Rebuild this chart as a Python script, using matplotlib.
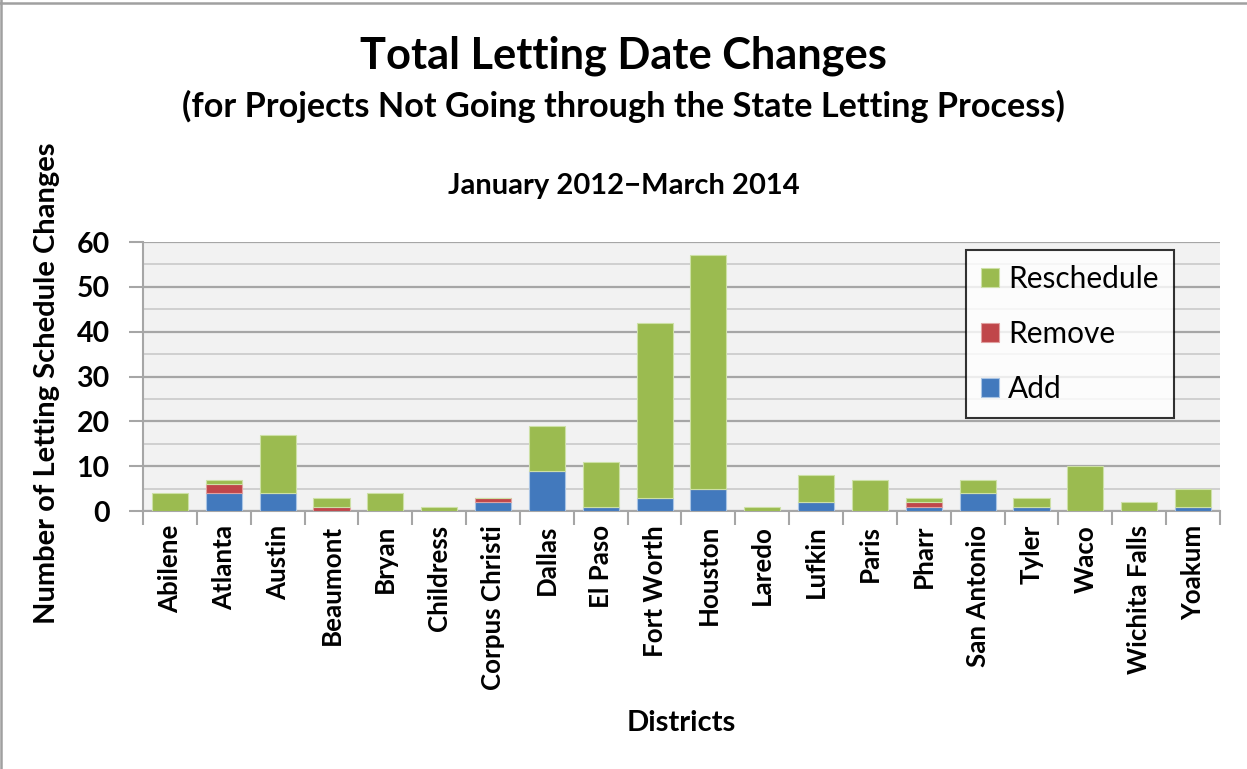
import matplotlib
matplotlib.use("Agg")
import matplotlib.pyplot as plt
import numpy as np

plt.rcParams['font.family'] = ['Lato', 'DejaVu Sans']

########data########
districts = ["Abilene", "Atlanta", "Austin", "Beaumont", "Bryan", "Childress",
             "Corpus Christi", "Dallas", "El Paso", "Fort Worth", "Houston",
             "Laredo", "Lufkin", "Paris", "Pharr", "San Antonio", "Tyler",
             "Waco", "Wichita Falls", "Yoakum"]
add = [0, 4, 4, 0, 0, 0, 2, 9, 1, 3, 5, 0, 2, 0, 1, 4, 1, 0, 0, 1]
remove = [0, 2, 0, 1, 0, 0, 1, 0, 0, 0, 0, 0, 0, 0, 1, 0, 0, 0, 0, 0]
reschedule = [4, 1, 13, 2, 4, 1, 0, 10, 10, 39, 52, 1, 6, 7, 1, 3, 2, 10, 2, 4]

c_add = "#4279bd"
c_rem = "#c0464a"
c_res = "#9bbb50"

fig = plt.figure(figsize=(12.47, 7.69), dpi=100)
ax = fig.add_axes([0.1147, 0.3355, 0.8636, 0.3498])
ax.set_facecolor("#f2f2f2")

x = np.arange(len(districts))
add = np.array(add)
remove = np.array(remove)
reschedule = np.array(reschedule)
w = 0.67
ax.bar(x, add, w, color=c_add, label="Add", edgecolor="#a9c4e4", linewidth=0.8, zorder=3)
ax.bar(x, remove, w, bottom=add, color=c_rem, label="Remove", edgecolor="#e0a0a0", linewidth=0.8, zorder=3)
ax.bar(x, reschedule, w, bottom=add + remove, color=c_res, label="Reschedule", edgecolor="#cde0a6", linewidth=0.8, zorder=3)

ax.set_xlim(-0.5, len(districts) - 0.5)
ax.set_ylim(0, 60)
ax.set_yticks(np.arange(0, 61, 10))
ax.set_yticks(np.arange(5, 60, 10), minor=True)
ax.grid(axis="y", which="major", color="#a6a6a6", linewidth=1.6, zorder=0)
ax.grid(axis="y", which="minor", color="#d0d0d0", linewidth=1.4, zorder=0)
ax.tick_params(axis="y", which="major", length=10, width=1.5, color="#a6a6a6",
               labelsize=20.5, pad=14)
ax.tick_params(axis="y", which="minor", length=0)
for lab in ax.get_yticklabels():
    lab.set_fontweight("bold")

# category ticks at boundaries
ax.set_xticks(np.arange(-0.5, len(districts), 1.0))
ax.set_xticklabels([])
ax.set_xticks(x, minor=True)
ax.set_xticklabels(districts, minor=True, rotation=90, fontsize=18.6, fontweight="bold")
ax.tick_params(axis="x", which="major", length=10, width=1.5, color="#a6a6a6")
ax.tick_params(axis="x", which="minor", length=0, pad=10)

for s in ["top", "right"]:
    ax.spines[s].set_visible(False)
for s in ["left", "bottom"]:
    ax.spines[s].set_color("#a6a6a6")
    ax.spines[s].set_linewidth(1.5)

ax.set_ylabel("Number of Letting Schedule Changes", fontsize=21, fontweight="bold")
ax.yaxis.set_label_coords(-0.077, 0.476)
ax.set_xlabel("Districts", fontsize=21, fontweight="bold")
ax.xaxis.set_label_coords(0.5, -0.74)

h, l = ax.get_legend_handles_labels()
leg = ax.legend(h[::-1], l[::-1], loc="upper right", bbox_to_anchor=(0.957, 0.970),
                borderaxespad=0, fontsize=21.5, frameon=True, fancybox=False,
                handlelength=0.62, handleheight=0.62, labelspacing=0.9,
                borderpad=0.5, handletextpad=0.3)
leg.get_frame().set_edgecolor("black")
leg.get_frame().set_linewidth(1.5)

fig.text(0.5, 0.928, "Total Letting Date Changes", ha="center", va="center",
         fontsize=31.2, fontweight="bold")
fig.text(0.5, 0.861, "(for Projects Not Going through the State Letting Process)",
         ha="center", va="center", fontsize=24.7, fontweight="bold")
fig.text(0.5, 0.758, "January 2012\u2212March 2014", ha="center", va="center",
         fontsize=21, fontweight="bold")

# grey edge on the top and left of the picture
fig.add_artist(plt.Line2D([0, 1], [0.9955, 0.9955], transform=fig.transFigure,
                          color="#a0a0a0", linewidth=1.8))
fig.add_artist(plt.Line2D([0.001, 0.001], [0, 1], transform=fig.transFigure,
                          color="#a0a0a0", linewidth=1.8))

fig.savefig("out.png", dpi=100)
